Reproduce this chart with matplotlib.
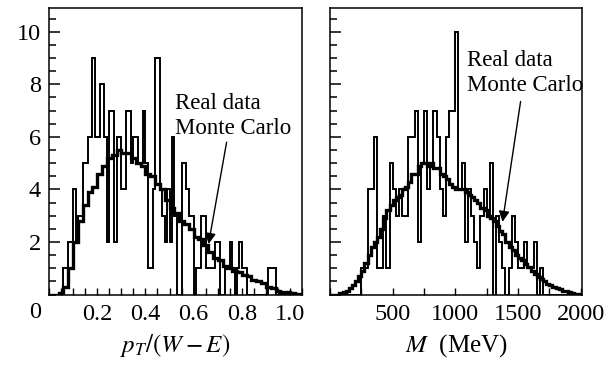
import numpy as np
import matplotlib
matplotlib.use("Agg")
import matplotlib.pyplot as plt
from matplotlib.ticker import MultipleLocator

plt.rcParams['font.family'] = ['Liberation Serif', 'DejaVu Serif']
plt.rcParams['mathtext.fontset'] = 'stix'

# left panel: pT/(W-E), real data in 0.01 bins
pt_bin = 0.01
pt_real = [0, 0, 0, 0, 0, 0, 1, 1, 2, 2,
           4, 2, 3, 3, 5, 5, 6, 6, 9, 6,
           6, 8, 8, 6, 2, 7, 7, 2, 6, 6,
           4, 4, 7, 7, 5, 6, 6, 5, 5, 7,
           5, 1, 1, 4, 9, 9, 4, 3, 2, 4,
           2, 6, 3, 0, 0, 5, 5, 4, 3, 3,
           0, 1, 1, 3, 3, 1, 1, 1, 1, 2,
           2, 0, 0, 1, 1, 2, 1, 0, 1, 2,
           1, 1, 0, 0, 0, 0, 0, 0, 0, 0,
           0, 1, 1, 1, 0, 0, 0, 0, 0, 0,
           0, 0, 0, 0, 0]
# monte carlo in 0.02 bins
pt_mc_bin = 0.02
pt_mc = [0, 0, 0.05, 0.3, 1.0, 2.0, 2.8, 3.4, 3.9, 4.1,
         4.6, 4.9, 5.2, 5.3, 5.5, 5.4, 5.4, 5.2, 5.0, 4.9,
         4.6, 4.5, 4.2, 4.0, 3.6, 3.3, 3.1, 2.8, 2.7, 2.5,
         2.2, 2.1, 1.9, 1.6, 1.4, 1.3, 1.1, 1.0, 0.9, 0.85,
         0.75, 0.7, 0.55, 0.5, 0.45, 0.3, 0.25, 0.15, 0.1, 0.08,
         0.05, 0.03]

# right panel: M (MeV), 25 MeV bins
m_bin = 25
m_real = [0, 0, 0, 0, 0, 0, 0, 0, 0, 0,
          1, 1, 4, 4, 6, 1, 1, 3, 1, 5,
          4, 3, 4, 3, 3, 6, 6, 7, 2, 5,
          7, 4, 5, 7, 6, 4, 3, 6, 7, 7,
          10, 4, 5, 2, 4, 3, 2, 1, 3, 4,
          3, 5, 0, 3, 2, 1, 0, 1, 3, 2,
          1, 1, 2, 1, 1, 2, 0, 1, 0, 0,
          0, 0, 0, 0, 0, 0, 0, 0, 0, 0]
m_mc = [0, 0, 0, 0.05, 0.1, 0.15, 0.25, 0.35, 0.5, 0.7,
        0.9, 1.2, 1.5, 1.8, 2.0, 2.2, 2.5, 2.9, 3.2, 3.4,
        3.6, 3.7, 3.8, 4.0, 4.1, 4.3, 4.6, 4.6, 4.9, 5.0,
        5.0, 4.9, 5.0, 4.8, 4.8, 4.6, 4.5, 4.4, 4.2, 4.1,
        4.0, 4.0, 4.0, 3.9, 3.8, 3.7, 3.6, 3.5, 3.3, 3.2,
        3.0, 2.9, 2.8, 2.6, 2.4, 2.3, 2.0, 1.8, 1.7, 1.5,
        1.4, 1.3, 1.15, 1.05, 0.9, 0.8, 0.65, 0.6, 0.5, 0.4,
        0.35, 0.3, 0.25, 0.2, 0.15, 0.12, 0.1, 0.06, 0.04, 0.02]

fig = plt.figure(figsize=(6.13, 3.65), dpi=100)
ax1 = fig.add_axes([0.080, 0.193, 0.4127, 0.785])
ax2 = fig.add_axes([0.5383, 0.193, 0.411, 0.785])

ax1.stairs(pt_real, np.arange(len(pt_real) + 1) * pt_bin, color='k', lw=1.4)
ax1.stairs(pt_mc, np.arange(len(pt_mc) + 1) * pt_mc_bin, color='k', lw=2.4)
ax2.stairs(m_real, np.arange(len(m_real) + 1) * m_bin, color='k', lw=1.4)
ax2.stairs(m_mc, np.arange(len(m_mc) + 1) * m_bin, color='k', lw=2.4)

ax1.set_xlim(0, 1.05)
ax2.set_xlim(0, 2010)
for ax in (ax1, ax2):
    ax.set_ylim(0, 10.9)
    ax.yaxis.set_major_locator(MultipleLocator(2))
    ax.yaxis.set_minor_locator(MultipleLocator(0.5))
    ax.tick_params(axis='y', which='major', direction='in', length=8, width=1.1,
                   labelsize=17.5, pad=6, right=False)
    ax.tick_params(axis='y', which='minor', direction='in', length=5, width=1.1, right=False)
    ax.tick_params(axis='x', which='both', direction='in', length=5, width=1.0,
                   labelsize=17.5, pad=7, top=False)
    for s in ax.spines.values():
        s.set_linewidth(1.1)

ax1.set_yticks([2, 4, 6, 8, 10])
ax1.set_yticklabels(['2', '4', '6', '8', '10'])
ax2.set_yticklabels([])

ax1.xaxis.set_major_locator(MultipleLocator(0.2))
ax1.xaxis.set_minor_locator(MultipleLocator(0.05))
ax1.set_xticks([0.2, 0.4, 0.6, 0.8, 1.0])
ax1.set_xticklabels(['0.2', '0.4', '0.6', '0.8', '1.0'])
ax2.xaxis.set_minor_locator(MultipleLocator(250))
ax2.set_xticks([500, 1000, 1500, 2000])
ax2.set_xticklabels(['500', '1000', '1500', '2000'])

fig.text(35 / 613, 1 - 313 / 365, '0', fontsize=17.5, ha='center', va='center')

ax1.set_xlabel(r'$p_T/(W-E)$', fontsize=18, labelpad=5)
ax2.set_xlabel(r'$M$  (MeV)', fontsize=18, labelpad=5)

ax1.text(0.523, 7.26, 'Real data', fontsize=16.5, va='center')
ax1.text(0.523, 6.3, 'Monte Carlo', fontsize=16.5, va='center')
ax1.annotate('', xy=(0.66, 1.82), xytext=(0.739, 5.9),
             arrowprops=dict(arrowstyle='-|>', color='k', lw=1.0, mutation_scale=16))

ax2.text(1095, 8.9, 'Real data', fontsize=16.5, va='center')
ax2.text(1095, 7.95, 'Monte Carlo', fontsize=16.5, va='center')
ax2.annotate('', xy=(1373, 2.66), xytext=(1524, 7.45),
             arrowprops=dict(arrowstyle='-|>', color='k', lw=1.0, mutation_scale=16))

fig.savefig('out.png', dpi=100)
